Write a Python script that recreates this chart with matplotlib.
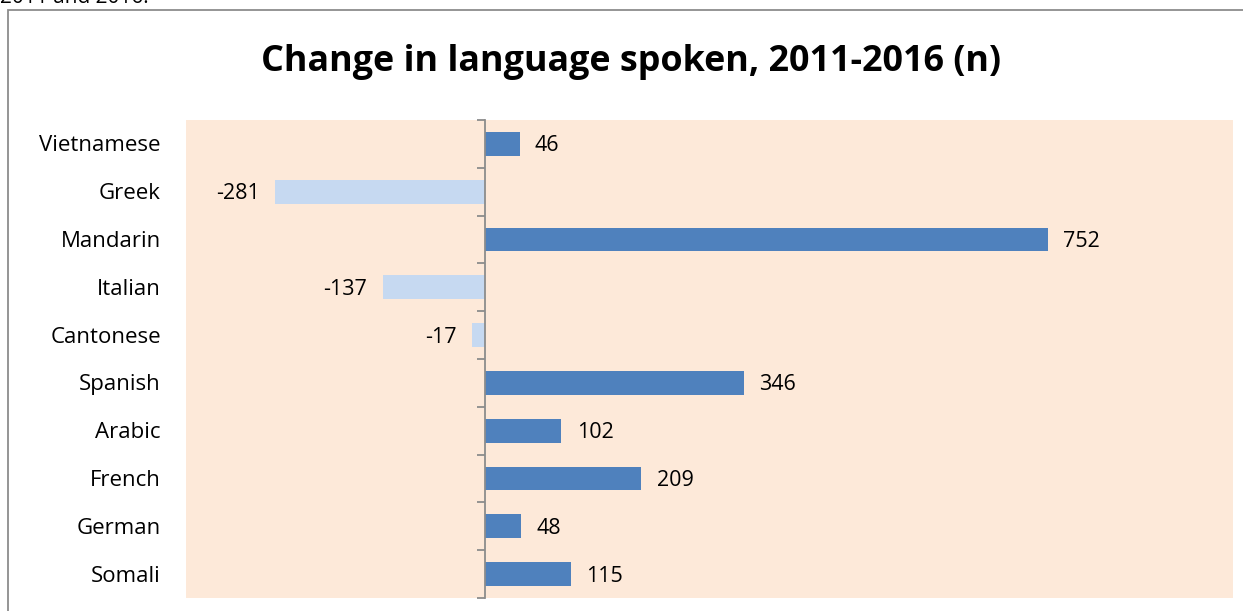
import matplotlib.pyplot as plt
from matplotlib.patches import Rectangle
from matplotlib.ticker import FixedLocator, NullLocator
import matplotlib.transforms as mtransforms

languages = ['Vietnamese', 'Greek', 'Mandarin', 'Italian', 'Cantonese',
             'Spanish', 'Arabic', 'French', 'German', 'Somali']
change = [46, -281, 752, -137, -17, 346, 102, 209, 48, 115]

plt.rcParams['font.family'] = ['Open Sans', 'DejaVu Sans']

fig = plt.figure(figsize=(12.43, 6.11), dpi=100)

# chart frame (only top and left edges are visible in the crop)
fig.patches.append(Rectangle((8 / 1243, -0.05), 1.2, 1 - 10 / 611 + 0.05,
                             transform=fig.transFigure, fill=False,
                             edgecolor='#8c8c8c', linewidth=1.3))
# caption of the page above, mostly cut off by the crop
fig.text(0.0, 1 - 3 / 611, '2011 and 2016.', fontsize=15, va='baseline', ha='left')

ax = fig.add_axes([186 / 1243, 1 - 598 / 611, (1233 - 186) / 1243, (598 - 120) / 611])
ax.set_facecolor('#fde9d9')

ypos = list(range(len(languages)))
colors = ['#4f81bd' if v >= 0 else '#c6d9f1' for v in change]
ax.barh(ypos, change, height=0.5, color=colors, zorder=2)

ax.set_xlim(-400, 1000)
ax.set_ylim(len(languages) - 0.5, -0.5)

for s in ['top', 'right', 'bottom']:
    ax.spines[s].set_visible(False)
ax.spines['left'].set_position(('data', 0))
ax.spines['left'].set_color('#8c8c8c')
ax.spines['left'].set_linewidth(1.3)
ax.spines['left'].set_zorder(3)

ax.xaxis.set_major_locator(NullLocator())
ax.yaxis.set_major_locator(FixedLocator([i - 0.5 for i in range(len(languages) + 1)]))
ax.set_yticklabels([])
ax.tick_params(axis='y', direction='out', length=6, width=1.3, color='#8c8c8c')

trans = mtransforms.blended_transform_factory(ax.transAxes, ax.transData)
for i, name in enumerate(languages):
    ax.annotate(name, (-0.024, i), xycoords=trans, xytext=(0, -1.5),
                textcoords='offset points', ha='right', va='center', fontsize=16)

for i, v in enumerate(change):
    if v >= 0:
        ax.annotate(str(v), (v, i), xytext=(11, -1.5), textcoords='offset points',
                    ha='left', va='center', fontsize=15.5)
    else:
        ax.annotate(str(v), (v, i), xytext=(-11, -1.5), textcoords='offset points',
                    ha='right', va='center', fontsize=15.5)

fig.text(631 / 1243, 1 - 62 / 611, 'Change in language spoken, 2011-2016 (n)',
         ha='center', va='center', fontsize=25.8, fontweight='bold')

fig.savefig('out.png', dpi=100)
